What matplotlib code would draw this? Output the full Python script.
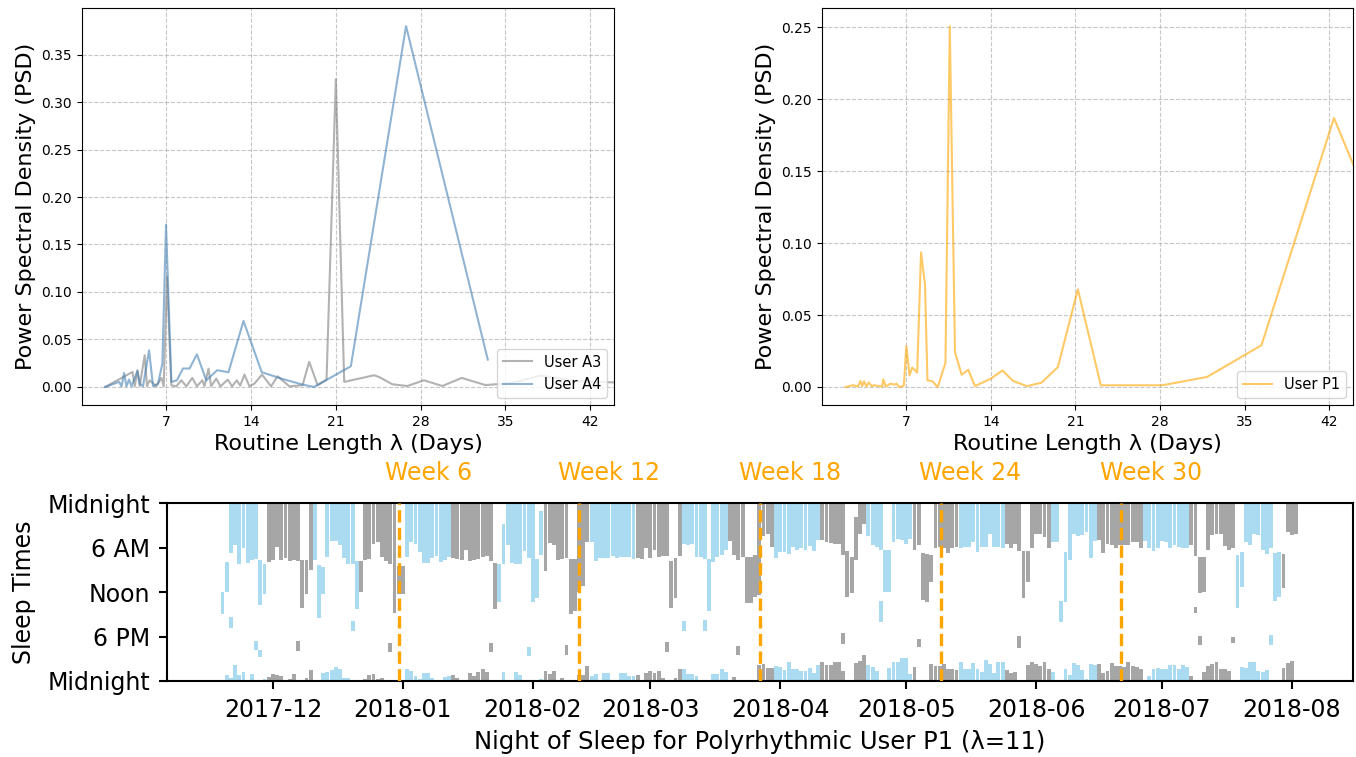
import numpy as np
import pandas as pd
import matplotlib
matplotlib.use('Agg')
import matplotlib.pyplot as plt
import matplotlib.dates as mdates
import matplotlib.transforms as mtransforms

# ---------------- PSD panels (period in days, power) ----------------
A3_PERIOD = [1.95, 4.2, 4.39, 4.61, 4.8, 5.21, 5.4, 5.62, 6.17, 6.59, 6.78, 7.05, 7.41, 7.82,
             8.24, 8.65, 9.14, 9.52, 9.97, 10.15, 10.48, 10.7, 11.12, 11.47, 12.07, 12.43,
             12.82, 13.1, 13.45, 13.86, 14.27, 14.9, 15.65, 16.19, 17.16, 18.25, 18.8, 19.49,
             20.23, 21.0, 21.69, 22.92, 24.16, 24.57, 25.67, 26.9, 28.28, 29.8, 31.4, 33.35,
             35.5, 37.9, 41.0, 46.0]
A3_PSD = [0.0, 0.0158, 0.0007, 0.0176, 0.001, 0.0334, 0.0007, 0.007, 0.0007, 0.0095, 0.0007,
          0.116, 0.0018, 0.0007, 0.007, 0.0007, 0.0095, 0.0007, 0.007, 0.0007, 0.0193, 0.0007,
          0.0088, 0.0007, 0.0077, 0.0007, 0.007, 0.0014, 0.013, 0.0007, 0.0035, 0.013, 0.0007,
          0.0112, 0.0007, 0.0018, 0.0265, 0.0018, 0.0077, 0.324, 0.0053, 0.0088, 0.0123,
          0.0105, 0.0028, 0.001, 0.007, 0.001, 0.0095, 0.002, 0.004, 0.012, 0.006, 0.004]

A4_PERIOD = [1.95, 3.1, 3.3, 3.51, 3.7, 3.92, 4.12, 4.61, 4.8, 5.07, 5.57, 5.9, 6.31, 6.67,
             6.97, 7.41, 7.87, 8.37, 8.92, 9.52, 10.3, 11.2, 12.13, 13.37, 14.88, 16.6, 18.25,
             19.2, 22.24, 26.8, 33.55]
A4_PSD = [0.0, 0.0053, 0.0005, 0.0147, 0.0007, 0.0078, 0.0007, 0.0168, 0.0035, 0.0007,
          0.0386, 0.0007, 0.0035, 0.0246, 0.171, 0.0053, 0.007, 0.0194, 0.0194, 0.0344, 0.007,
          0.0176, 0.0155, 0.0695, 0.0155, 0.0084, 0.0025, 0.0, 0.0218, 0.380, 0.0288]

P1_PERIOD = [1.95, 2.6, 3.0, 3.2, 3.35, 3.5, 3.7, 3.9, 4.15, 4.3, 5.0, 5.1, 5.3, 5.7, 6.0,
             6.2, 6.4, 6.6, 6.8, 7.0, 7.27, 7.49, 7.9, 8.22, 8.55, 8.75, 9.15, 9.6, 10.24,
             10.6, 11.03, 11.58, 12.13, 12.68, 14.0, 14.96, 15.84, 16.97, 18.2, 19.55, 21.2,
             23.1, 25.4, 28.2, 31.9, 36.4, 42.4, 50.8]
P1_PSD = [0.0, 0.0012, 0.0004, 0.0042, 0.0006, 0.004, 0.0004, 0.0032, 0.0004, 0.0013, 0.0003,
          0.0053, 0.0004, 0.0023, 0.0017, 0.0023, 0.0, 0.0004, 0.001, 0.0283, 0.0081, 0.0135,
          0.010, 0.0935, 0.071, 0.0046, 0.004, 0.0, 0.0167, 0.2505, 0.0243, 0.0085, 0.012,
          0.0006, 0.0058, 0.0115, 0.0042, 0.0006, 0.003, 0.0139, 0.0678, 0.0012, 0.0012,
          0.0012, 0.007, 0.029, 0.1868, 0.017]
PSD_XTICKS = [7, 14, 21, 28, 35, 42]

# ---------------- Sleep raster (hours after midnight) ----------------
START_DATE = '2017-11-19'
WAKE_HOURS = [  # end of sleep that began at/before midnight (0 = none)
    0, 0, 6.66, 5.57, 8.15, 6.0, 8.06, 7.7, 7.47, 0, 0, 7.93, 7.7, 5.9, 7.6, 7.38, 7.8, 7.6,
    7.8, 0, 0, 9.06, 7.7, 0, 0, 7.25, 5.1, 5.1, 5.57, 7.38, 8.15, 8.15, 0, 0, 7.6, 7.47, 5.43,
    5.2, 7.25, 7.8, 8.15, 14.8, 0, 0, 7.25, 5.2, 5.43, 6.57, 8.06, 8.06, 7.34, 7.16, 7.93, 7.7,
    7.25, 7.34, 7.47, 7.6, 6.34, 7.83, 7.7, 7.47, 7.25, 7.16, 7.83, 0, 0, 0, 5.57, 8.06, 8.15,
    8.15, 6.48, 7.38, 13.36, 0, 0, 9.2, 5.3, 5.57, 7.7, 7.47, 7.38, 0, 0, 12.0, 11.1, 5.2, 5.2,
    7.8, 7.38, 7.38, 7.38, 7.16, 7.38, 7.25, 7.25, 7.25, 7.47, 7.38, 7.47, 6.0, 7.38, 6.25,
    7.25, 7.16, 7.16, 0, 0, 7.16, 5.43, 5.66, 5.43, 7.25, 7.25, 7.47, 0, 7.93, 7.25, 7.0, 6.34,
    5.1, 7.0, 7.7, 7.25, 0, 0, 0, 12.45, 4.44, 4.2, 5.9, 7.38, 6.57, 6.57, 6.8, 5.9, 6.34, 6.0,
    6.25, 5.8, 6.48, 5.0, 5.0, 5.2, 5.3, 5.43, 5.43, 7.0, 0, 0, 0, 4.2, 2.85, 4.4, 5.66, 5.9,
    6.25, 0, 0, 5.2, 4.76, 5.0, 5.43, 4.76, 6.25, 5.66, 0, 0, 0, 6.0, 5.9, 6.1, 6.66, 6.0, 5.9,
    6.1, 5.9, 5.9, 5.2, 6.57, 5.9, 5.9, 4.2, 5.9, 5.9, 6.0, 5.43, 6.0, 5.43, 6.48, 0, 0, 6.0,
    4.08, 4.2, 4.5, 6.1, 5.2, 5.2, 0, 0, 7.7, 4.2, 4.44, 4.3, 3.85, 7.38, 5.1, 5.0, 6.66, 5.43,
    5.57, 6.1, 5.66, 5.66, 5.66, 5.2, 5.2, 6.0, 5.1, 6.0, 6.4, 6.0, 5.05, 5.2, 6.1, 5.57, 5.9,
    6.0, 6.1, 5.66, 7.16, 0, 0, 6.34, 4.3, 4.2, 4.08, 5.8, 6.34, 6.0, 0, 0, 5.2, 5.66, 4.2, 4.3,
    6.34, 6.9, 6.0, 0, 0, 0, 3.85, 4.3, 4.2]
BED_HOURS = [  # start of sleep that ran until midnight (24 = none)
    24, 23.2, 23.55, 21.83, 23.2, 22.78, 24, 23.1, 24, 24, 23.7, 23.46, 23.1, 23.2, 23.32,
    23.87, 23.78, 23.0, 24, 24, 23.55, 22.5, 24, 24, 22.87, 22.78, 22.5, 22.1, 22.42, 23.55,
    23.55, 24, 24, 23.9, 23.7, 23.2, 23.1, 23.7, 23.55, 24, 24, 24, 24, 24, 22.33, 22.64, 23.32,
    23.7, 22.96, 22.96, 23.55, 24, 24, 23.46, 23.32, 23.23, 23.55, 23.9, 24, 22.87, 23.32,
    22.78, 22.33, 22.78, 24, 24, 24, 22.78, 24, 24, 22.78, 23.2, 24, 24, 24, 24, 23.78, 22.64,
    23.1, 22.64, 24, 23.55, 24, 24, 24, 23.2, 23.2, 21.97, 23.32, 23.1, 24, 22.96, 22.96, 24,
    24, 22.96, 22.96, 23.32, 23.32, 23.2, 24, 22.87, 22.64, 22.87, 22.64, 23.55, 24, 24, 23.55,
    22.42, 22.42, 23.1, 23.1, 23.32, 24, 24, 24, 23.0, 23.0, 22.42, 22.78, 24, 23.46, 24, 24,
    24, 24, 24, 21.83, 21.74, 22.2, 22.2, 21.97, 22.06, 22.5, 21.5, 22.33, 22.33, 22.7, 22.7,
    22.2, 22.87, 21.87, 21.42, 21.87, 21.87, 21.42, 21.42, 22.64, 24, 24, 21.6, 21.3, 20.5,
    21.87, 22.06, 22.64, 24, 24, 22.28, 21.5, 21.38, 20.92, 20.92, 23.0, 22.1, 24, 24, 24,
    21.74, 21.97, 21.97, 21.74, 22.33, 22.42, 22.55, 21.42, 22.33, 22.33, 21.6, 22.42, 22.74,
    21.2, 21.65, 22.87, 21.5, 21.5, 22.5, 22.96, 22.78, 24, 24, 21.87, 21.42, 21.74, 21.97,
    21.42, 22.33, 22.78, 24, 24, 22.42, 23.2, 21.6, 21.87, 22.55, 23.7, 21.74, 21.87, 21.74,
    22.96, 22.64, 21.6, 21.97, 21.97, 22.06, 21.5, 21.97, 22.1, 22.33, 24, 23.32, 22.42, 22.2,
    22.42, 22.33, 21.87, 21.87, 22.42, 21.87, 22.1, 23.32, 24, 24, 22.78, 21.97, 21.65, 21.42,
    22.42, 22.42, 22.64, 24, 24, 22.1, 22.2, 21.42, 21.42, 22.64, 22.74, 22.5, 24, 24, 24,
    22.28, 21.6, 21.29, 24]
DAY_SLEEP = [  # (night index, start hour, end hour) for sleep not touching midnight
    (0, 12.0, 14.95), (1, 7.93, 12.0), (2, 15.3, 16.9), (8, 18.6, 19.8), (9, 7.7, 13.8),
    (9, 19.8, 20.8), (10, 8.24, 12.3), (18, 18.66, 19.93), (19, 7.7, 14.18), (20, 7.7, 12.3),
    (23, 8.38, 15.53), (24, 8.6, 12.23), (31, 15.85, 17.3), (32, 7.83, 14.27), (33, 7.83, 12.0),
    (40, 18.93, 20.15), (42, 8.47, 12.23), (43, 8.47, 12.23), (64, 18.93, 20.15),
    (65, 8.0, 14.27), (66, 8.15, 13.36), (67, 2.85, 8.15), (73, 19.38, 20.6), (75, 7.47, 12.8),
    (76, 1.0, 6.93), (82, 19.1, 20.47), (83, 7.47, 14.95), (84, 7.47, 14.5), (106, 18.7, 20.15),
    (107, 7.83, 14.18), (108, 7.38, 12.8), (110, 15.85, 17.2), (115, 15.7, 17.2),
    (116, 7.47, 14.5), (123, 19.25, 20.47), (125, 7.25, 13.5), (126, 7.25, 13.5),
    (127, 7.0, 12.68), (148, 17.57, 19.0), (149, 6.48, 12.68), (150, 7.25, 12.14),
    (151, 1.8, 7.7), (157, 13.13, 16.0), (158, 6.25, 12.0), (159, 6.25, 12.0),
    (166, 18.34, 19.34), (167, 6.7, 13.0), (168, 6.8, 13.27), (169, 7.0, 10.64),
    (190, 17.9, 19.6), (191, 6.48, 12.8), (192, 6.48, 10.64), (200, 13.13, 16.0),
    (201, 6.57, 13.27), (232, 13.95, 14.85), (233, 7.25, 12.14), (233, 17.9, 19.07),
    (234, 7.25, 12.0), (241, 18.0, 18.93), (242, 6.93, 14.18), (243, 6.57, 11.3),
    (250, 17.75, 19.07), (251, 6.66, 13.13), (252, 6.57, 12.68), (253, 6.9, 11.46)]
ROUTINE_LEN = 11
WEEK_LABELS = ['Week 6', 'Week 12', 'Week 18', 'Week 24', 'Week 30']
WEEK_DATES = ['2017-12-31 02:00', '2018-02-12 02:00', '2018-03-27 05:00',
              '2018-05-09 07:00', '2018-06-21 07:00']
HOUR_TICKS = [0, 6, 12, 18, 24]
HOUR_LABELS = ['Midnight', '6 AM', 'Noon', '6 PM', 'Midnight']

BLUE = '#ABDBF1'
GRAY = '#A6A6A6'
ORANGE = '#FFA500'

fig = plt.figure(figsize=(13.56, 7.57), dpi=100)
ax1 = fig.add_axes([0.0602, 0.4650, 0.3928, 0.5244])
ax2 = fig.add_axes([0.6060, 0.4650, 0.3920, 0.5244])
ax3 = fig.add_axes([0.1229, 0.1004, 0.8751, 0.2347])

# --- top left
ax1.plot(A3_PERIOD, A3_PSD, color='gray', alpha=0.6, lw=1.5, label='User A3')
ax1.plot(A4_PERIOD, A4_PSD, color='steelblue', alpha=0.6, lw=1.5, label='User A4')
ax1.set_xlim(0, 44)
ax1.set_ylim(-0.019, 0.399)
ax1.set_yticks(np.arange(0, 0.36, 0.05))
# --- top right
ax2.plot(P1_PERIOD, P1_PSD, color='orange', alpha=0.6, lw=1.5, label='User P1')
ax2.set_xlim(0, 44)
ax2.set_ylim(-0.0125, 0.2632)
ax2.set_yticks(np.arange(0, 0.26, 0.05))
for ax in (ax1, ax2):
    ax.set_xticks(PSD_XTICKS)
    ax.tick_params(labelsize=10)
    ax.grid(True, linestyle='--', alpha=0.7)
    ax.set_xlabel('Routine Length λ (Days)', fontsize=16)
    ax.set_ylabel('Power Spectral Density (PSD)', fontsize=16)
    ax.legend(loc='lower right', fontsize=10.5)

# --- bottom raster
n = len(WAKE_HOURS)
dates = pd.date_range(START_DATE, periods=n, freq='D')
colors = np.array([BLUE if (i // ROUTINE_LEN) % 2 == 0 else GRAY for i in range(n)])
wake = np.array(WAKE_HOURS, dtype=float)
bed = np.array(BED_HOURS, dtype=float)
w = 0.92
m = wake > 0
ax3.bar(dates[m], wake[m], bottom=0, width=w, color=colors[m], linewidth=0)
m = bed < 24
ax3.bar(dates[m], 24 - bed[m], bottom=bed[m], width=w, color=colors[m], linewidth=0)
idx = [d[0] for d in DAY_SLEEP]
ax3.bar(dates[idx], [d[2] - d[1] for d in DAY_SLEEP], bottom=[d[1] for d in DAY_SLEEP],
        width=w, color=colors[idx], linewidth=0)

trans = mtransforms.blended_transform_factory(ax3.transData, ax3.transAxes)
for lab, d in zip(WEEK_LABELS, WEEK_DATES):
    x = pd.Timestamp(d)
    ax3.axvline(x, color=ORANGE, linestyle='--', lw=2.4, zorder=3)
    ax3.text(x + pd.Timedelta(days=7), 1.17, lab, color=ORANGE, fontsize=17, ha='center',
             va='center', transform=trans, clip_on=False)

ax3.set_ylim(24, 0)
ax3.set_yticks(HOUR_TICKS)
ax3.set_yticklabels(HOUR_LABELS)
ax3.set_xlim(pd.Timestamp('2017-11-05 16:00'), pd.Timestamp('2018-08-15 15:00'))
ax3.xaxis.set_major_locator(mdates.MonthLocator())
ax3.xaxis.set_major_formatter(mdates.DateFormatter('%Y-%m'))
ax3.tick_params(labelsize=17, length=6, width=1.5, pad=6)
for s in ax3.spines.values():
    s.set_linewidth(1.5)
ax3.set_ylabel('Sleep Times', fontsize=17, labelpad=8)
ax3.set_xlabel('Night of Sleep for Polyrhythmic User P1 (λ=11)', fontsize=17.5, labelpad=6)

fig.savefig('out.png', dpi=100)
